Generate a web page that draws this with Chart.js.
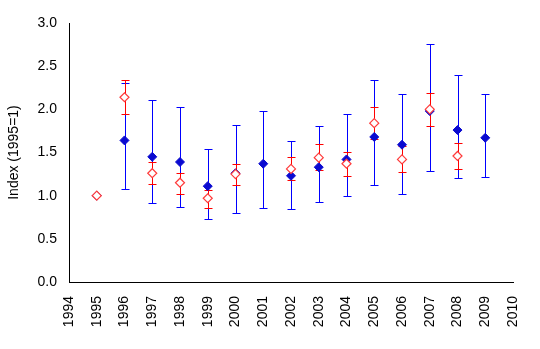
<!DOCTYPE html>
<html>
<head>
<meta charset="utf-8">
<script src="https://cdn.jsdelivr.net/npm/chart.js@4/dist/chart.umd.min.js"></script>
<style>
  html, body { margin: 0; padding: 0; background: #fff; }
  #wrap { width: 540px; height: 349px; }
</style>
</head>
<body>
<div id="wrap"><canvas id="chart" width="540" height="349"></canvas></div>
<script>
// ─── DATA ─────────────────────────────────────────────────────────────────────

const years      = [1995, 1996, 1997, 1998, 1999, 2000, 2001, 2002, 2003, 2004, 2005, 2006, 2007, 2008, 2009];
const blueIndex  = [1.00, 1.64, 1.45, 1.39, 1.11, 1.26, 1.37, 1.23, 1.33, 1.42, 1.68, 1.59, 1.98, 1.76, 1.67];
const blueLow    = [null, 1.08, 0.92, 0.87, 0.73, 0.80, 0.86, 0.85, 0.93, 1.00, 1.12, 1.02, 1.29, 1.21, 1.22];
const blueHigh   = [null, 2.31, 2.11, 2.03, 1.54, 1.82, 1.98, 1.63, 1.81, 1.95, 2.34, 2.18, 2.76, 2.40, 2.18];
const redIndex   = [1.00, 2.14, 1.26, 1.15, 0.97, 1.25, null, 1.31, 1.44, 1.37, 1.84, 1.42, 2.00, 1.46, null];
const redLow     = [null, 1.95, 1.14, 1.02, 0.86, 1.12, null, 1.18, 1.30, 1.23, 1.66, 1.27, 1.81, 1.31, null];
const redHigh    = [null, 2.34, 1.39, 1.26, 1.07, 1.37, null, 1.45, 1.60, 1.51, 2.03, 1.57, 2.19, 1.61, null];

const xTicks = [1994, 1995, 1996, 1997, 1998, 1999, 2000, 2001, 2002, 2003, 2004, 2005, 2006, 2007, 2008, 2009, 2010];
const yTicks = [0, 0.5, 1.0, 1.5, 2.0, 2.5, 3.0];

const BLUE = '#0000ff';
const BLUE_FILL = '#0a0ad0';
const RED = '#ff0000';

function points(vals) {
  return years.map((y, i) => ({ x: y, y: vals[i] })).filter(p => p.y !== null);
}

// ─── ERROR BARS ───────────────────────────────────────────────────────────────

function drawBars(chart, low, high, color) {
  const { ctx, scales: { x, y } } = chart;
  ctx.save();
  ctx.strokeStyle = color;
  ctx.lineWidth = 1;
  years.forEach((yr, i) => {
    if (low[i] === null || high[i] === null) return;
    const px = Math.round(x.getPixelForValue(yr)) + 0.5;
    const top = Math.round(y.getPixelForValue(high[i])) + 0.5;
    const bot = Math.round(y.getPixelForValue(low[i])) + 0.5;
    ctx.beginPath();
    ctx.moveTo(px, top); ctx.lineTo(px, bot);
    ctx.moveTo(px - 4, top); ctx.lineTo(px + 4, top);
    ctx.moveTo(px - 4, bot); ctx.lineTo(px + 4, bot);
    ctx.stroke();
  });
  ctx.restore();
}

const errorBars = {
  id: 'errorBars',
  beforeDatasetsDraw(chart) {
    drawBars(chart, blueLow, blueHigh, BLUE);
    drawBars(chart, redLow, redHigh, RED);
  }
};

// ─── CHART ────────────────────────────────────────────────────────────────────

Chart.defaults.font.family = '"Liberation Sans", Arial, sans-serif';
Chart.defaults.font.size = 14;
Chart.defaults.color = '#000';

new Chart(document.getElementById('chart'), {
  type: 'scatter',
  data: {
    datasets: [
      {
        data: points(blueIndex),
        pointStyle: 'rectRot',
        pointRadius: 4.5,
        backgroundColor: BLUE_FILL,
        borderColor: BLUE_FILL,
        borderWidth: 1,
        order: 2
      },
      {
        data: points(redIndex),
        pointStyle: 'rectRot',
        pointRadius: 4.5,
        backgroundColor: '#fff',
        borderColor: '#ff3b3b',
        borderWidth: 1.2,
        order: 1
      }
    ]
  },
  options: {
    responsive: false,
    animation: false,
    events: [],
    layout: { padding: { top: 23, right: 27, left: 0, bottom: 0 } },
    plugins: { legend: { display: false }, tooltip: { enabled: false } },
    scales: {
      x: {
        type: 'linear',
        min: 1994,
        max: 2010,
        afterBuildTicks: s => { s.ticks = xTicks.map(v => ({ value: v })); },
        afterFit: s => { s.height = 67; },
        grid: { display: false, drawTicks: true, tickLength: 5, tickColor: '#000' },
        border: { color: '#000', width: 1 },
        ticks: { minRotation: 90, maxRotation: 90, padding: 9, callback: v => String(v) }
      },
      y: {
        min: 0,
        max: 3,
        afterBuildTicks: s => { s.ticks = yTicks.map(v => ({ value: v })); },
        afterFit: s => { s.width = 69; },
        grid: { display: false, drawTicks: true, tickLength: 5, tickColor: '#000' },
        border: { color: '#000', width: 1 },
        ticks: { padding: 7, callback: v => v.toFixed(1) },
        title: { display: true, text: 'Index (1995=1)', font: { size: 14 }, padding: { top: 6, bottom: 4 } }
      }
    }
  },
  plugins: [errorBars]
});
</script>
</body>
</html>
